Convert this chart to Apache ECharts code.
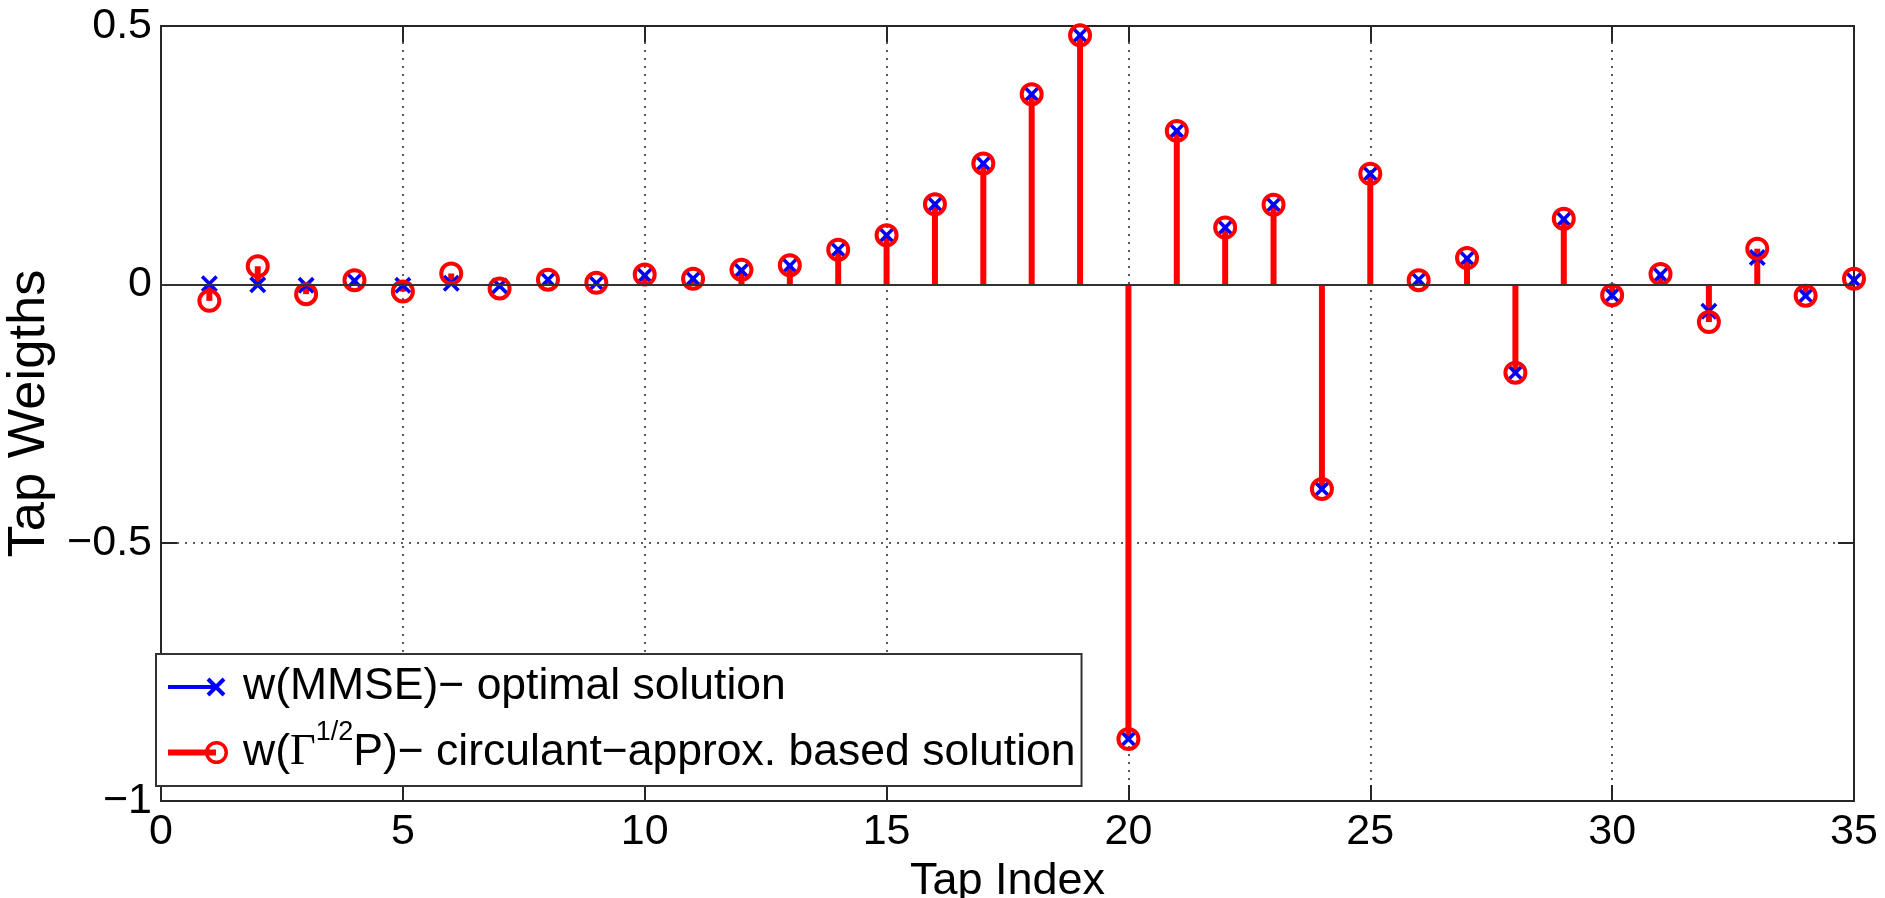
<!DOCTYPE html>
<html>
<head>
<meta charset="utf-8">
<script src="https://cdn.jsdelivr.net/npm/echarts@6/dist/echarts.min.js"></script>
<style>html,body{margin:0;padding:0;background:#fff}#c{width:1885px;height:898px}</style>
</head>
<body>
<div id="c"></div>
<script>
// ---- data ----
const tapIndex = [1,2,3,4,5,6,7,8,9,10,11,12,13,14,15,16,17,18,19,20,21,22,23,24,25,26,27,28,29,30,31,32,33,34,35];
const mmseWeights = [0.001,-0.001,-0.002,0.007,-0.002,0.002,-0.003,0.009,0.002,0.017,0.011,0.027,0.036,0.067,0.095,0.155,0.234,0.368,0.482,-0.880,0.297,0.110,0.154,-0.396,0.214,0.009,0.050,-0.171,0.126,-0.021,0.018,-0.052,0.052,-0.022,0.008];
const circWeights = [-0.032,0.035,-0.019,0.008,-0.014,0.021,-0.008,0.009,0.003,0.019,0.011,0.028,0.037,0.067,0.095,0.155,0.234,0.368,0.482,-0.880,0.297,0.110,0.154,-0.396,0.214,0.008,0.051,-0.171,0.127,-0.021,0.020,-0.073,0.069,-0.022,0.011];
const xTickLabels = ['0','5','10','15','20','25','30','35'];
const yTickLabels = ['−1','−0.5','0','0.5'];
const seriesNames = ['w(MMSE)− optimal solution', 'w(Γ1/2P)− circulant−approx. based solution'];
const xTitle = 'Tap Index';
const yTitle = 'Tap Weigths';

// ---- build ----
const FF = "'Liberation Sans', Arial, sans-serif";
const BLUE = '#0000ff', RED = '#ff0000', AX = '#262626';
const pairs = (ys) => tapIndex.map((x, i) => [x, ys[i]]);

const X_SYMBOL = 'path://M3.41,0.59 L19.41,16.59 L16.59,19.41 L0.59,3.41 Z M19.41,3.41 L3.41,19.41 L0.59,16.59 L16.59,0.59 Z';
const BOUNDS = ' M0,0 L0.01,0 L0,0.01 Z M70,26 L69.99,26 L70,25.99 Z';
const ICON_X = 'path://M0,11 L48,11 L48,15 L0,15 Z M41.41,3.59 L57.41,19.59 L54.59,22.41 L38.59,6.41 Z M57.41,6.41 L41.41,22.41 L38.59,19.59 L54.59,3.59 Z' + BOUNDS;
const ICON_O = 'path://M0,10 L48,10 L48,16 L0,16 Z M60,13 A11.5,11.5 0 1 1 37,13 A11.5,11.5 0 1 1 60,13 Z M56.5,13 A8,8 0 1 0 40.5,13 A8,8 0 1 0 56.5,13 Z' + BOUNDS;

function stemRender(color, width) {
  return function (params, api) {
    const x = api.value(0), y = api.value(1);
    const p0 = api.coord([x, 0]);
    const p1 = api.coord([x, y]);
    return { type: 'line', shape: { x1: p0[0], y1: p0[1], x2: p1[0], y2: p1[1] },
      style: { stroke: color, lineWidth: width } };
  };
}

const gridLine = { show: true, lineStyle: { color: '#222', width: 1.5, type: [2, 6] } };
const xCommon = { type: 'value', min: 0, max: 35, interval: 5 };
const yCommon = { type: 'value', min: -1, max: 0.5, interval: 0.5 };
const axLine = { show: true, onZero: false, lineStyle: { color: AX, width: 2 } };
const axTick = { show: true, inside: true, length: 16, lineStyle: { color: AX, width: 2 } };

const chart = echarts.init(document.getElementById('c'), null, { renderer: 'canvas' });
chart.setOption({
  animation: false,
  backgroundColor: '#fff',
  grid: { left: 161, right: 31, top: 26, bottom: 97, containLabel: false, outerBoundsMode: 'none' },
  xAxis: [
    Object.assign({}, xCommon, {
      position: 'bottom', axisLine: axLine, axisTick: axTick, splitLine: gridLine,
      name: xTitle, nameLocation: 'middle', nameGap: 52,
      nameTextStyle: { fontFamily: FF, fontSize: 45, color: '#000' },
      axisLabel: { margin: 10, fontFamily: FF, fontSize: 43, color: '#000',
        formatter: (v) => xTickLabels[Math.round(v / 5)] }
    }),
    Object.assign({}, xCommon, {
      position: 'top', axisLine: axLine, axisTick: axTick, splitLine: { show: false },
      axisLabel: { show: false }
    })
  ],
  yAxis: [
    Object.assign({}, yCommon, {
      position: 'left', axisLine: axLine, axisTick: axTick, splitLine: gridLine,
      name: yTitle, nameLocation: 'middle', nameGap: 98, nameRotate: 90,
      nameTextStyle: { fontFamily: FF, fontSize: 52.5, color: '#000' },
      axisLabel: { margin: 9, fontFamily: FF, fontSize: 43, color: '#000',
        formatter: (v) => yTickLabels[Math.round((v + 1) / 0.5)] }
    }),
    Object.assign({}, yCommon, {
      position: 'right', axisLine: axLine, axisTick: axTick, splitLine: { show: false },
      axisLabel: { show: false }
    })
  ],
  legend: {
    orient: 'vertical', left: 156, top: 654,
    padding: [10, 6, 0, 12], itemGap: 9, itemWidth: 70, itemHeight: 26,
    backgroundColor: '#fff', borderColor: '#333', borderWidth: 2, borderRadius: 0,
    selectedMode: false,
    data: [
      { name: seriesNames[0], icon: ICON_X, itemStyle: { color: BLUE, borderWidth: 0 } },
      { name: seriesNames[1], icon: ICON_O, itemStyle: { color: RED, borderWidth: 0 } }
    ],
    formatter: function (name) {
      if (name === seriesNames[0]) return '{n|' + name + '}';
      return '{n|w(}{g|Γ}{s|1/2}{n|P)− circulant−approx. based solution}';
    },
    textStyle: {
      fontFamily: FF, fontSize: 44.5, color: '#000', lineHeight: 46,
      rich: {
        n: { fontFamily: FF, fontSize: 44.5, lineHeight: 46, color: '#000' },
        g: { fontFamily: "'Liberation Serif', 'Times New Roman', serif", fontSize: 44.5, lineHeight: 46, color: '#000' },
        s: { fontFamily: FF, fontSize: 27, lineHeight: 27, padding: [0, 0, 40, 0], color: '#000' }
      }
    }
  },
  series: [
    {
      name: 'mmseStem', type: 'custom', renderItem: stemRender(BLUE, 3),
      encode: { x: 0, y: 1 }, data: pairs(mmseWeights), silent: true,
      markLine: { silent: true, symbol: 'none', label: { show: false },
        lineStyle: { color: '#333', width: 2, type: 'solid' }, data: [{ yAxis: 0 }] }
    },
    {
      name: seriesNames[0], type: 'scatter', data: pairs(mmseWeights),
      symbol: X_SYMBOL, symbolSize: 17, itemStyle: { color: BLUE, opacity: 1 }, silent: true
    },
    {
      name: 'circStem', type: 'custom', renderItem: stemRender(RED, 6),
      encode: { x: 0, y: 1 }, data: pairs(circWeights), silent: true
    },
    {
      name: seriesNames[1], type: 'scatter', data: pairs(circWeights),
      symbol: 'circle', symbolSize: 20,
      itemStyle: { color: 'rgba(0,0,0,0)', borderColor: RED, borderWidth: 4, opacity: 1 }, silent: true
    }
  ]
});
</script>
</body>
</html>
